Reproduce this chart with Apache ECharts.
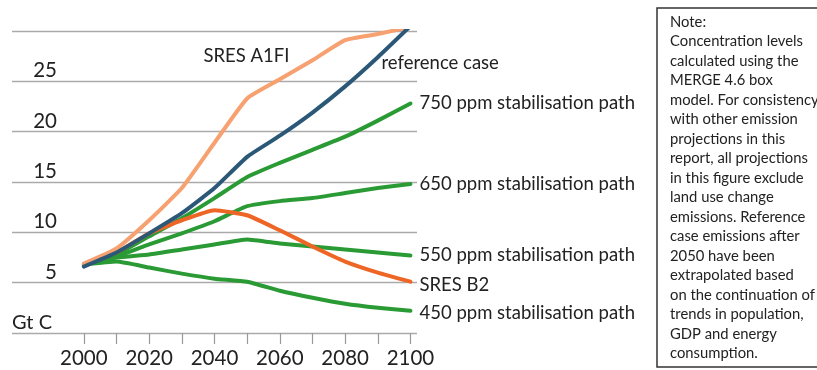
<!DOCTYPE html>
<html><head><meta charset="utf-8">
<script src="https://cdn.jsdelivr.net/npm/echarts@6/dist/echarts.min.js"></script>
<style>html,body{margin:0;padding:0;background:#fff}#c{width:817px;height:370px}</style>
</head><body><div id="c"></div>
<script>
var years = [2000, 2010, 2020, 2030, 2040, 2050, 2060, 2070, 2080, 2090, 2100];
var xTicks = [2000, 2010, 2020, 2030, 2040, 2050, 2060, 2070, 2080, 2090, 2100];
var xLabels = [2000, 2020, 2040, 2060, 2080, 2100];
var sresA1FI = [6.9, 8.4, 11.2, 14.4, 18.9, 23.3, 25.2, 27.1, 29.1, 29.7, 30.4];
var referenceCase = [6.6, 8.0, 9.9, 11.9, 14.4, 17.5, 19.6, 21.9, 24.5, 27.4, 30.5];
var ppm750 = [6.7, 7.8, 9.6, 11.4, 13.4, 15.5, 16.9, 18.2, 19.5, 21.1, 22.8];
var ppm650 = [6.8, 7.6, 8.8, 9.9, 11.1, 12.6, 13.1, 13.4, 13.9, 14.4, 14.8];
var sresB2 = [6.8, 8.0, 9.9, 11.2, 12.2, 11.7, 10.2, 8.6, 7.1, 6.0, 5.1];
var ppm550 = [6.8, 7.5, 7.8, 8.3, 8.8, 9.3, 8.9, 8.6, 8.3, 8.0, 7.7];
var ppm450 = [6.8, 7.1, 6.5, 5.9, 5.4, 5.1, 4.2, 3.5, 2.9, 2.5, 2.2];
var noteText = 'Note:\nConcentration levels\ncalculated using the\nMERGE 4.6 box\nmodel. For consistency\nwith other emission\nprojections in this\nreport, all projections\nin this figure exclude\nland use change\nemissions. Reference\ncase emissions after\n2050 have been\nextrapolated based\non the continuation of\ntrends in population,\nGDP and energy\nconsumption.';

function pairs(v){ return years.map(function(y,i){ return [y, v[i]]; }); }
var FONT = 'Lato';
var labelStyle = { show: true, fontFamily: FONT, fontSize: 18.5, color: '#222', distance: 9 };
function line(name, data, color, z, endLabel){
  return {
    name: name, type: 'line', data: pairs(data), smooth: 0.15, showSymbol: false, z: z,
    lineStyle: { color: color, width: 4, cap: 'round', join: 'round' },
    itemStyle: { color: color },
    endLabel: Object.assign({}, labelStyle, endLabel),
    emphasis: { disabled: true }, silent: true, animation: false
  };
}
var chart = echarts.init(document.getElementById('c'));
chart.setOption({
  backgroundColor: '#fff',
  animation: false,
  grid: { left: 12, right: 400, top: 31, bottom: 37 },
  xAxis: {
    type: 'value', min: 1978, max: 2102,
    splitLine: { show: false },
    axisLine: { show: false },
    axisTick: { show: true, customValues: xTicks, length: 11, lineStyle: { color: '#999', width: 1.2 } },
    axisLabel: { customValues: xLabels, fontFamily: FONT, fontSize: 20.5, color: '#222', margin: 15,
      formatter: function(v){ return String(v); } }
  },
  yAxis: {
    type: 'value', min: 0, max: 30, interval: 5,
    axisLine: { show: false }, axisTick: { show: false },
    splitLine: { show: true, lineStyle: { color: '#aaa', width: 1.4 } },
    axisLabel: {
      inside: true, margin: 45, align: 'right', verticalAlign: 'bottom',
      fontFamily: FONT, fontSize: 20.5, color: '#222', padding: [0, 0, 0, 0],
      formatter: function(v){ return v === 0 ? '{g|Gt C}' : (v === 30 ? '' : String(v)); },
      rich: { g: { fontFamily: FONT, fontSize: 20, color: '#222', padding: [0, 5, 0, 0] } }
    }
  },
  series: [
    line('450 ppm stabilisation path', ppm450, '#2a9a34', 3, { formatter: '450 ppm stabilisation path', offset: [0, 2] }),
    line('550 ppm stabilisation path', ppm550, '#2a9a34', 3, { formatter: '550 ppm stabilisation path', offset: [0, 0] }),
    line('650 ppm stabilisation path', ppm650, '#2a9a34', 3, { formatter: '650 ppm stabilisation path', offset: [0, 0] }),
    line('750 ppm stabilisation path', ppm750, '#2a9a34', 3, { formatter: '750 ppm stabilisation path', offset: [0, 0] }),
    line('SRES B2', sresB2, '#ee6626', 4, { formatter: 'SRES B2', offset: [0, 3] }),
    line('SRES A1FI', sresA1FI, '#f7a070', 5, { formatter: 'SRES A1FI', offset: [-216, 29] }),
    line('reference case', referenceCase, '#2c5878', 6, { formatter: 'reference case', offset: [-38, 37] })
  ],
  graphic: [
    { type: 'rect', shape: { x: 657, y: 8, width: 200, height: 359 }, style: { fill: '#fff', stroke: '#333', lineWidth: 1.5 } },
    { type: 'text', x: 670, y: 12, style: { text: noteText, fontFamily: FONT, fontSize: 14.8, lineHeight: 19.5, fill: '#222' } }
  ]
});
</script></body></html>
